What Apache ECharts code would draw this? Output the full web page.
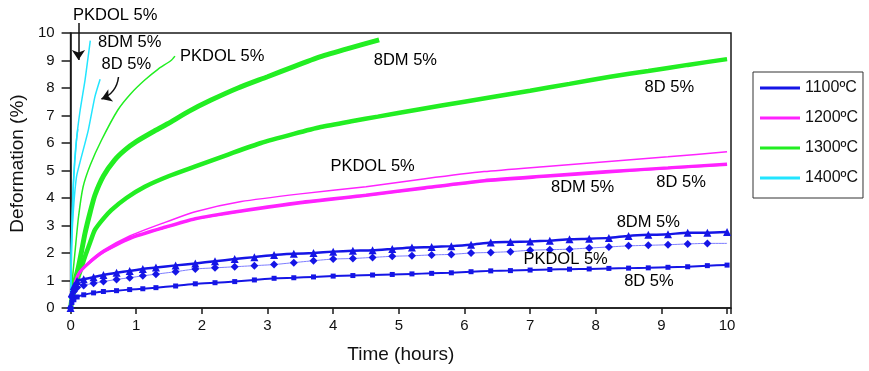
<!DOCTYPE html>
<html><head><meta charset="utf-8">
<script src="https://cdn.jsdelivr.net/npm/echarts@6/dist/echarts.min.js"></script>
<style>html,body{margin:0;padding:0;background:#fff}#c{width:869px;height:371px}</style>
</head><body><div id="c"></div>
<script>
const FONT = '"Liberation Sans", Arial, Helvetica, sans-serif';
const temps = ['1100ºC', '1200ºC', '1300ºC', '1400ºC'];
const tempColors = ['#1515e6', '#ff22ff', '#22ee22', '#22e5ff'];

// ---- 1100 ºC ----
const t1100 = [0, 0.02, 0.05, 0.1, 0.2, 0.35, 0.5, 0.7, 0.9, 1.1, 1.3, 1.6, 1.9, 2.2, 2.5, 2.8, 3.1, 3.4, 3.7, 4.0, 4.3, 4.6, 4.9, 5.2, 5.5, 5.8, 6.1, 6.4, 6.7, 7.0, 7.3, 7.6, 7.9, 8.2, 8.5, 8.8, 9.1, 9.4, 9.7, 10.0];
const v1100_8DM = [0, 0.55, 0.8, 0.98, 1.05, 1.12, 1.2, 1.28, 1.35, 1.42, 1.47, 1.55, 1.62, 1.7, 1.78, 1.85, 1.93, 1.97, 2.0, 2.05, 2.08, 2.1, 2.15, 2.2, 2.22, 2.25, 2.3, 2.38, 2.4, 2.42, 2.45, 2.5, 2.52, 2.55, 2.62, 2.66, 2.68, 2.74, 2.74, 2.76];
const v1100_PKDOL = [0, 0.4, 0.6, 0.75, 0.82, 0.9, 0.96, 1.04, 1.1, 1.17, 1.23, 1.32, 1.42, 1.46, 1.5, 1.54, 1.58, 1.65, 1.72, 1.78, 1.8, 1.84, 1.88, 1.9, 1.93, 1.95, 2.0, 2.02, 2.05, 2.1, 2.12, 2.14, 2.18, 2.22, 2.26, 2.28, 2.3, 2.33, 2.35, 2.35];
const v1100_8D = [0, 0.2, 0.3, 0.4, 0.48, 0.55, 0.6, 0.63, 0.67, 0.7, 0.74, 0.8, 0.88, 0.92, 0.96, 1.02, 1.08, 1.1, 1.13, 1.16, 1.18, 1.2, 1.22, 1.24, 1.26, 1.28, 1.32, 1.35, 1.36, 1.38, 1.4, 1.41, 1.42, 1.44, 1.45, 1.46, 1.48, 1.5, 1.54, 1.56];

// ---- 1200 ºC ----
const t1200 = [0, 0.05, 0.12, 0.25, 0.5, 0.9, 1.4, 1.9, 2.6, 3.5, 4.5, 5.4, 6.3, 7.2, 8.15, 9.1, 10.0];
const v1200_PKDOL = [0, 0.8, 1.26, 1.62, 2.1, 2.62, 3.08, 3.5, 3.87, 4.15, 4.41, 4.7, 4.96, 5.14, 5.32, 5.5, 5.68];
const v1200_8DM = [0, 0.7, 1.2, 1.55, 2.02, 2.5, 2.88, 3.22, 3.5, 3.8, 4.07, 4.34, 4.6, 4.76, 4.92, 5.07, 5.2];
const v1200_8D = [0, 0.75, 1.24, 1.58, 2.05, 2.55, 2.92, 3.26, 3.54, 3.85, 4.11, 4.38, 4.64, 4.8, 4.96, 5.1, 5.24];

// ---- 1300 ºC ----
const t1300_PKDOL = [0, 0.03, 0.07, 0.12, 0.19, 0.3, 0.47, 0.72, 0.92, 1.13, 1.33, 1.53, 1.59];
const v1300_PKDOL = [0, 1.1, 2.1, 3.3, 4.4, 5.2, 6.1, 7.2, 7.8, 8.29, 8.68, 9.0, 9.16];
const t1300_8DM = [0, 0.03, 0.07, 0.12, 0.17, 0.22, 0.3, 0.37, 0.5, 0.67, 0.83, 1.0, 1.25, 1.48, 1.8, 2.14, 2.55, 3.0, 3.4, 3.81, 4.25, 4.7];
const v1300_8DM = [0, 0.5, 1.0, 1.5, 2.1, 2.72, 3.5, 4.1, 4.8, 5.38, 5.75, 6.05, 6.4, 6.7, 7.15, 7.56, 8.0, 8.41, 8.78, 9.14, 9.45, 9.75];
const t1300_8D = [0, 0.03, 0.07, 0.12, 0.17, 0.22, 0.3, 0.37, 0.5, 0.62, 0.85, 1.13, 1.5, 1.89, 2.4, 2.9, 3.4, 3.81, 4.3, 4.68, 5.3, 6.0, 6.45, 7.0, 7.6, 8.22, 8.8, 9.4, 10.0];
const v1300_8D = [0, 0.35, 0.75, 1.14, 1.5, 1.87, 2.4, 2.84, 3.25, 3.56, 4.0, 4.41, 4.8, 5.14, 5.58, 6.0, 6.33, 6.58, 6.8, 6.96, 7.22, 7.5, 7.68, 7.9, 8.15, 8.41, 8.62, 8.84, 9.05];

// ---- 1400 ºC ----
const t1400_PKDOL = [0, 0.01, 0.03, 0.05, 0.08, 0.11];
const v1400_PKDOL = [0, 2.2, 3.8, 4.9, 5.9, 6.5];
const t1400_8DM = [0, 0.01, 0.03, 0.04, 0.09, 0.14, 0.22, 0.26, 0.30];
const v1400_8DM = [0, 2.0, 3.4, 4.4, 6.1, 7.1, 8.29, 9.0, 9.72];
const t1400_8D = [0, 0.02, 0.05, 0.09, 0.14, 0.27, 0.37, 0.45];
const v1400_8D = [0, 2.5, 3.8, 4.77, 5.27, 6.47, 7.68, 8.32];

// ---- annotations (data coordinates) ----
const noteText = ['PKDOL 5%', '8DM 5%', '8D 5%', 'PKDOL 5%', '8DM 5%', '8D 5%', 'PKDOL 5%', '8DM 5%', '8D 5%', '8DM 5%', 'PKDOL 5%', '8D 5%'];
const noteT = [0.68, 0.9, 0.85, 2.31, 5.1, 9.12, 4.6, 7.8, 9.3, 8.8, 7.54, 8.81];
const noteV = [10.65, 9.64, 8.84, 9.16, 9.0, 8.03, 5.16, 4.4, 4.55, 3.1, 1.75, 0.98];
const arrowFrom = [[0.12, 10.36], [0.73, 8.4]];
const arrowTo = [[0.12, 9.02], [0.47, 7.6]];

const zip = (t, v) => t.map((x, i) => [x, v[i]]);

function lineSeries(name, color, t, v, opt) {
  opt = opt || {};
  let data = zip(t, v);
  if (opt.lastNoSymbol) {
    data = data.map((d, i) => i === data.length - 1 ? { value: d, symbol: 'none' } : d);
  }
  return {
    type: 'line', name: name, data: data,
    symbol: opt.symbol || 'none', symbolSize: opt.symbolSize || 6,
    showSymbol: !!opt.symbol, showAllSymbol: true,
    smooth: 0.2,
    lineStyle: { color: opt.lineColor || color, width: opt.width || 1.5, opacity: 1 },
    itemStyle: { color: color },
    emphasis: { disabled: true },
    animation: false, z: opt.z || 2, clip: true
  };
}

const series = [
  lineSeries(temps[2], tempColors[2], t1300_8D, v1300_8D, { width: 4.5 }),
  lineSeries(temps[2], tempColors[2], t1300_8DM, v1300_8DM, { width: 5 }),
  lineSeries(temps[2], tempColors[2], t1300_PKDOL, v1300_PKDOL, { width: 1.5 }),
  lineSeries(temps[1], tempColors[1], t1200, v1200_8D, { width: 3 }),
  lineSeries(temps[1], tempColors[1], t1200, v1200_8DM, { width: 2 }),
  lineSeries(temps[1], tempColors[1], t1200, v1200_PKDOL, { width: 1.5 }),
  lineSeries(temps[3], tempColors[3], t1400_8DM, v1400_8DM, { width: 1.5 }),
  lineSeries(temps[3], tempColors[3], t1400_8D, v1400_8D, { width: 1.5 }),
  lineSeries(temps[3], tempColors[3], t1400_PKDOL, v1400_PKDOL, { width: 1.5 }),
  lineSeries(temps[0], tempColors[0], t1100, v1100_8DM, { width: 2.5, symbol: 'triangle', symbolSize: 8, z: 4 }),
  lineSeries(temps[0], tempColors[0], t1100, v1100_PKDOL, { width: 1, symbol: 'diamond', symbolSize: 8, lineColor: '#7d7dff', lastNoSymbol: true, z: 3 }),
  lineSeries(temps[0], tempColors[0], t1100, v1100_8D, { width: 2, symbol: 'rect', symbolSize: 5, z: 4 }),
  {
    type: 'scatter', name: 'notes', clip: false, silent: true, animation: false, z: 10,
    symbol: 'circle', symbolSize: 2, itemStyle: { color: 'rgba(255,255,255,0)' },
    data: noteT.map((t, i) => ({ value: [t, noteV[i]], name: noteText[i] })),
    label: { show: true, position: [1, 1], align: 'center', verticalAlign: 'middle', formatter: p => p.name, color: '#000', opacity: 1, fontSize: 16.5, fontFamily: FONT },
    labelLayout: { hideOverlap: false }
  },
  {
    type: 'lines', coordinateSystem: 'cartesian2d', clip: false, silent: true, animation: false, z: 10,
    symbol: ['none', 'arrow'], symbolSize: 10,
    lineStyle: { color: '#111', width: 1.5, opacity: 1 },
    data: arrowFrom.map((f, i) => ({ coords: [f, arrowTo[i]], lineStyle: { curveness: i === 1 ? 0.3 : 0 } }))
  }
];

const chart = echarts.init(document.getElementById('c'), null, { renderer: 'canvas' });
chart.setOption({
  animation: false,
  backgroundColor: '#fff',
  textStyle: { fontFamily: FONT },
  grid: { left: 69, top: 33, right: 138, bottom: 63, show: true, borderColor: '#1a1a1a', borderWidth: 1.5, backgroundColor: 'transparent' },
  legend: {
    data: temps.map(n => ({ name: n, icon: 'rect' })),
    orient: 'vertical', left: 753, top: 72,
    itemWidth: 40, itemHeight: 3, itemGap: 14, itemTextGap: 7,
    padding: [8, 5, 12, 7],
    borderColor: '#333', borderWidth: 1,
    textStyle: { fontSize: 16, color: '#111', fontFamily: FONT },
    selectedMode: false
  },
  xAxis: {
    type: 'value', min: 0, max: 10.06, interval: 1,
    name: 'Time (hours)', nameLocation: 'middle', nameGap: 37,
    nameTextStyle: { fontSize: 19, color: '#111', fontFamily: FONT },
    axisLine: { show: true, lineStyle: { color: '#1a1a1a', width: 1.5 } },
    axisTick: { show: true, length: 6, lineStyle: { color: '#1a1a1a', width: 1.5 } },
    axisLabel: { margin: 10, fontSize: 15, color: '#111', fontFamily: FONT, formatter: v => (Math.abs(v - Math.round(v)) < 1e-6 ? String(Math.round(v)) : '') },
    splitLine: { show: false }
  },
  yAxis: {
    type: 'value', min: 0, max: 10, interval: 1,
    name: 'Deformation (%)', nameLocation: 'middle', nameGap: 39,
    nameTextStyle: { fontSize: 19, color: '#111', fontFamily: FONT, padding: [0, 0, 0, 14] },
    axisLine: { show: true, lineStyle: { color: '#1a1a1a', width: 1.5 } },
    axisTick: { show: true, length: 9, lineStyle: { color: '#1a1a1a', width: 1.5 } },
    axisLabel: { margin: 16, fontSize: 15, color: '#111', fontFamily: FONT },
    splitLine: { show: false }
  },
  series: series
});
</script></body></html>
